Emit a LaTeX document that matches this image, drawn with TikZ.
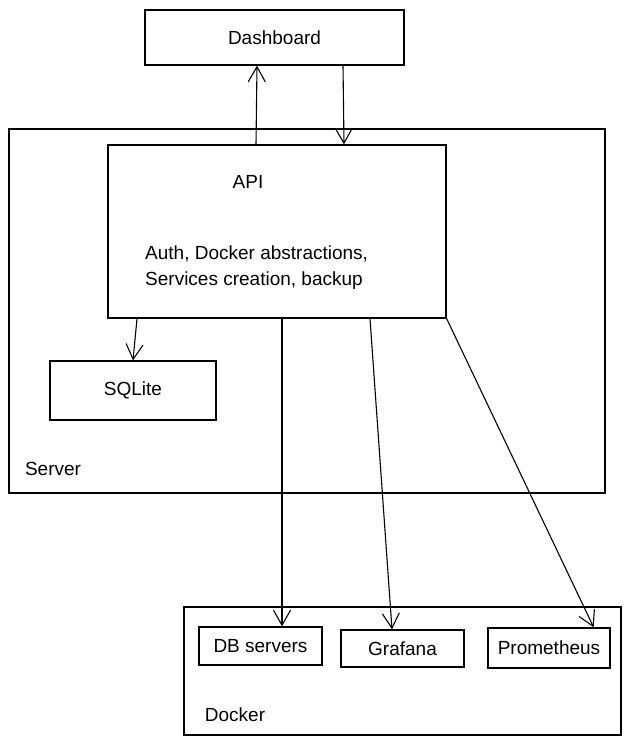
\documentclass[tikz,border=0pt]{standalone}
\usepackage{fontspec}
\setmainfont{Liberation Sans}
\usetikzlibrary{arrows.meta}
\begin{document}
\begin{tikzpicture}[x=1pt,y=-1pt,
        box/.style={draw, line width=1.3pt, inner sep=0pt, font=\fontsize{19}{26}\selectfont},
        lbl/.style={anchor=center, font=\fontsize{19}{26}\selectfont},
        conn/.style={-{Straight Barb[length=15pt,width=17pt]}, line width=1.1pt}]
        \useasboundingbox (0,0) rectangle (631,746);
        \node (dash) [box, minimum width=259pt, minimum height=55pt] at (274.5,37.5) {Dashboard};
        \node (server) [box, minimum width=596pt, minimum height=364pt] at (307,311) {};
        \node (api) [box, minimum width=338pt, minimum height=173pt] at (277,231.5) {};
        \node (sqlite) [box, minimum width=166pt, minimum height=59pt] at (133,390.5) {SQLite};
        \node (docker) [box, minimum width=437pt, minimum height=128pt] at (402.5,671) {};
        \node (dbs) [box, minimum width=123pt, minimum height=38pt] at (260.5,646) {DB servers};
        \node (grafana) [box, minimum width=123pt, minimum height=37pt] at (402.5,648.5) {Grafana};
        \node (prom) [box, minimum width=122pt, minimum height=40pt] at (549,648) {Prometheus};
        \node (apititle) [lbl, anchor=base] at (248,188) {API};
        \node (apitext) [lbl, anchor=base west, inner sep=0pt] at (145,259) {Auth, Docker abstractions,};
        \node (apitext2) [lbl, anchor=base west, inner sep=0pt] at (145,285) {Services creation, backup};
        \node (serverlbl) [lbl] at (53,469) {Server};
        \node (dockerlbl) [lbl] at (235,715) {Docker};
        \draw[conn] ([xshift=-21pt]api.north) -- ([xshift=-17.5pt]dash.south);
        \draw[conn] ([xshift=68.5pt]dash.south) -- ([xshift=67pt]api.north);
        \draw[conn] ([xshift=-140pt]api.south) -- (sqlite.north);
        \draw[conn] ([xshift=5pt]api.south) -- ([xshift=21.5pt]dbs.north);
        \draw[conn] ([xshift=93pt]api.south) -- ([xshift=-10.5pt]grafana.north);
        \draw[conn] (api.south east) -- ([xshift=-17pt]prom.north east);
    \end{tikzpicture}
\end{document}
